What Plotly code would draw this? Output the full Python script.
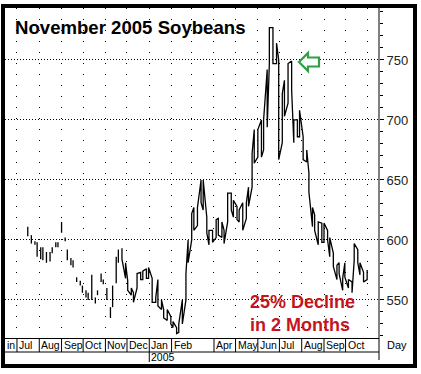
import pandas as pd
import plotly.graph_objects as go

start_date = "2004-06-14"
highs = [None, None, None, None, None, None, None, None,
         611, 604, 599, 598, 594, 594, 590, 590, 594, 598, 598, 615,
         602, 592, 585, 583, 569, 566, 562, 558, 556, 571, 552, 558,
         572, 567, 560, 544, 562, 586, 592, 593, 581, 566, 560, 556,
         572, 573, 574, 576, 577, 568, 552, 567, 550, 542, 542, 536,
         532, 527, 530, 550, 572, 600, 622, 627, 627, 650, 650, 619,
         608, 608, 617, 618, 615, 608, 639, 639, 633, 628, 625, 631,
         631, 644, 672, 692, 692, 700, 700, 742, 777, 777, 764, 750,
         722, 733, 747, 749, 700, 700, 708, 686, 675, 656, 627, 621,
         615, 614, 614, 608, 602, 589, 579, 581, 568, 581, 567, 565,
         597, 592, 581, 573, 575]
lows = [None, None, None, None, None, None, None, None,
        603, 597, 596, 586, 584, 583, 581, 582, 589, 594, 594, 606,
        599, 583, 579, 577, 565, 562, 556, 552, 550, 550, 547, 554,
        565, 563, 550, 535, 544, 564, 581, 584, 568, 558, 554, 548,
        560, 567, 567, 568, 568, 548, 548, 545, 542, 535, 533, 530,
        527, 522, 523, 530, 550, 581, 600, 608, 612, 631, 625, 606,
        596, 598, 602, 604, 602, 597, 615, 625, 619, 617, 615, 608,
        618, 628, 644, 664, 669, 669, 675, 694, 747, 747, 747, 667,
        681, 703, 714, 725, 681, 686, 686, 667, 665, 640, 611, 608,
        596, 598, 598, 600, 586, 578, 567, 572, 558, 569, 560, 556,
        583, 581, 571, 565, 567]
thin_trading_until = "2004-11-20"   # deferred contract traded sparsely before this

month_starts = ["2004-07-01", "2004-08-01", "2004-09-01", "2004-10-01",
                "2004-11-01", "2004-12-01", "2005-01-01", "2005-02-01",
                "2005-04-01", "2005-05-01", "2005-06-01", "2005-07-01",
                "2005-08-01", "2005-09-01", "2005-10-01"]
month_labels = ["Jul", "Aug", "Sep", "Oct", "Nov", "Dec", "Jan", "Feb",
                "Apr", "May", "Jun", "Jul", "Aug", "Sep", "Oct"]
year_label = "2005"
year_start = "2005-01-01"
title_text = "November 2005 Soybeans"
note_lines = ["25% Decline", "in 2 Months"]

dates = pd.bdate_range(start_date, periods=len(highs), freq="3B")

# ---- build bar-chart style path from the high/low values ----
xs, ys = [], []
cut = pd.Timestamp(thin_trading_until)
for i, (d, h, l) in enumerate(zip(dates, highs, lows)):
    if h is None:
        continue
    pair = (l, h) if i % 2 == 0 else (h, l)
    xs += [d, d]
    ys += list(pair)
    if d < cut:
        xs.append(None)
        ys.append(None)

# ---- layout helpers (pixel -> paper) ----
W, H = 421, 374
L, R, T, B = 5, 379, 8, 338


def px(p):
    return (p - L) / (R - L)


def py(p):
    return (B - p) / (B - T)


FONT = "Liberation Sans, Arial, sans-serif"

fig = go.Figure()
fig.add_trace(go.Scatter(x=xs, y=ys, mode="lines",
                         line=dict(color="black", width=1.3),
                         connectgaps=False, hoverinfo="skip"))

shapes = []
for d in month_starts:
    y_end = py(362) if d == year_start else py(352)
    shapes.append(dict(type="line", xref="x", yref="paper", x0=d, x1=d,
                       y0=0, y1=y_end, line=dict(color="black", width=1)))
shapes.append(dict(type="line", xref="paper", yref="paper", x0=0, x1=1,
                   y0=py(352), y1=py(352), line=dict(color="black", width=1)))
shapes.append(dict(type="line", xref="paper", yref="paper", x0=1, x1=1,
                   y0=py(360), y1=1, line=dict(color="black", width=1)))
pts = [(299, 62), (308, 53), (308, 57.5), (319, 57.5), (319, 66.5),
       (308, 66.5), (308, 71)]
path = "M " + " L ".join(f"{px(a):.5f},{py(b):.5f}" for a, b in pts) + " Z"
shapes.append(dict(type="path", xref="paper", yref="paper", path=path,
                   line=dict(color="#2f9e44", width=2.2), fillcolor="white",
                   layer="above"))
shapes.append(dict(type="rect", xref="paper", yref="paper",
                   x0=px(3), x1=px(415), y0=py(366), y1=py(6),
                   line=dict(color="black", width=4), layer="above"))

annotations = []
annotations.append(dict(text=f"<b>{title_text}</b>", xref="paper", yref="paper",
                        x=px(13), y=py(27), xanchor="left", yanchor="middle",
                        showarrow=False, font=dict(family=FONT, size=18.6, color="black")))
for i, t in enumerate(note_lines):
    annotations.append(dict(text=f"<b>{t}</b>", xref="paper", yref="paper",
                            x=px(248), y=py(302 + 23 * i), xanchor="left",
                            yanchor="middle", showarrow=False,
                            font=dict(family=FONT, size=18, color="#c3161c")))
for d, t in zip(month_starts, month_labels):
    annotations.append(dict(text=t, xref="x", yref="paper", x=d, y=py(345),
                            xanchor="left", yanchor="middle", xshift=0,
                            showarrow=False,
                            font=dict(family=FONT, size=10.5, color="black")))
annotations.append(dict(text="in", xref="x", yref="paper", x=month_starts[0],
                        y=py(345), xanchor="right", yanchor="middle", xshift=0,
                        showarrow=False, font=dict(family=FONT, size=10.5, color="black")))
annotations.append(dict(text=year_label, xref="x", yref="paper", x=year_start,
                        y=py(357), xanchor="left", yanchor="middle", xshift=0,
                        showarrow=False, font=dict(family=FONT, size=10.5, color="black")))
annotations.append(dict(text="Day", xref="paper", yref="paper", x=px(397),
                        y=py(345), xanchor="center", yanchor="middle",
                        showarrow=False, font=dict(family=FONT, size=11, color="black")))

fig.update_layout(
    width=W, height=H,
    margin=dict(l=L, r=W - R, t=T, b=H - B, pad=0),
    paper_bgcolor="white", plot_bgcolor="white",
    showlegend=False, hovermode=False,
    shapes=shapes, annotations=annotations,
    xaxis=dict(type="date", range=["2004-06-14 08:00", "2005-11-16 12:00"],
               showgrid=True, gridcolor="black", gridwidth=1,
               griddash="1px,10px", dtick="M1", tick0="2004-06-01",
               showticklabels=False, ticks="", showline=True,
               linecolor="black", linewidth=1, zeroline=False),
    yaxis=dict(side="right", range=[518.3, 793.3], dtick=50, tick0=0,
               showgrid=True, gridcolor="black", gridwidth=1,
               griddash="1px,2px", ticks="outside", ticklen=4,
               tickcolor="black", showline=False, zeroline=False,
               minor=dict(dtick=10, ticks="outside", ticklen=3,
                          tickcolor="black", showgrid=False),
               tickfont=dict(family=FONT, size=13, color="#222")),
)

fig.write_html("out.html", config={"displayModeBar": False},
               post_script="document.body.style.margin='0';"
                           "document.body.style.overflow='hidden';")
